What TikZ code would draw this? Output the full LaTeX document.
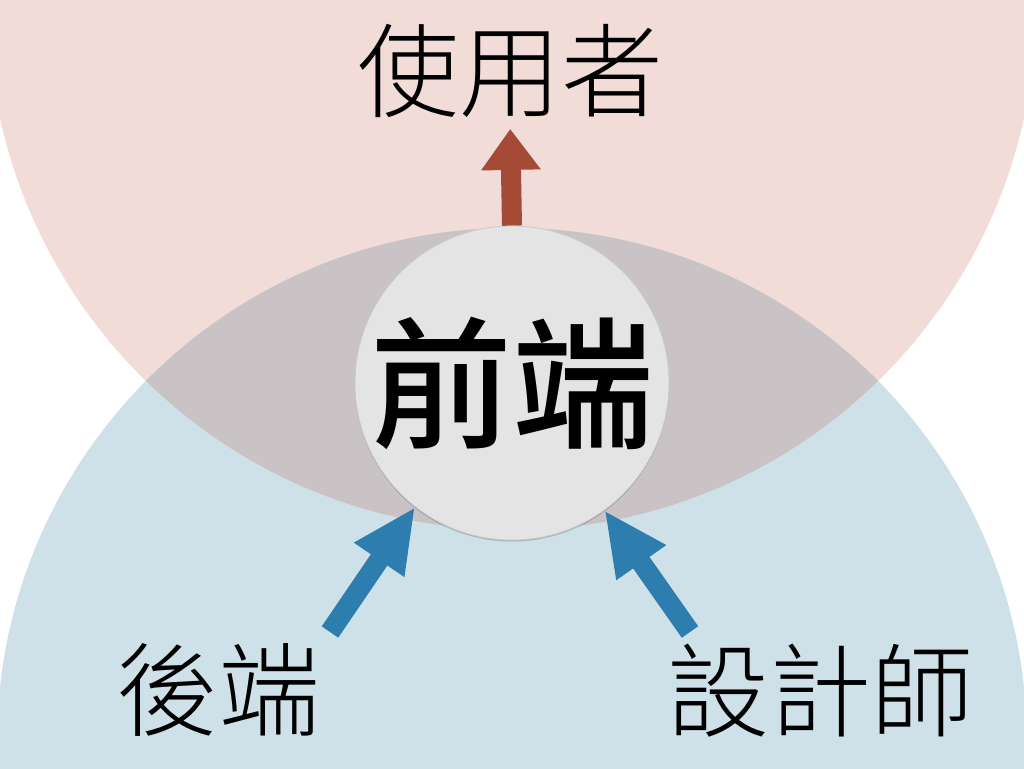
\documentclass[tikz,border=0pt]{standalone}
\usepackage{fontspec}
\newfontfamily\cjk{Noto Sans CJK TC}[BoldFont={Noto Sans CJK TC Bold}]
\IfFontExistsTF{Noto Sans CJK TC Light}
  {\newfontfamily\cjklight{Noto Sans CJK TC Light}}
  {\newfontfamily\cjklight{Noto Sans CJK TC}}
\IfFontExistsTF{Noto Sans CJK TC Medium}
  {\newfontfamily\cjkheavy{Noto Sans CJK TC Medium}}
  {\newfontfamily\cjkheavy{Noto Sans CJK TC Bold}}
\usetikzlibrary{arrows.meta,shadows}

\definecolor{userpink}{HTML}{F1DCD8}
\definecolor{devblue}{HTML}{CFE1E8}
\definecolor{overlapgrey}{HTML}{C9C3C6}
\definecolor{corefill}{HTML}{E4E4E4}
\definecolor{coreline}{HTML}{CACACA}
\definecolor{outred}{HTML}{A64A38}
\definecolor{inblue}{HTML}{2E7DAF}

\tikzset{
  label text/.style={font=\cjklight\fontsize{102}{102}\selectfont, inner sep=0pt, text=black},
  core/.style={circle, minimum size=314pt, inner sep=0pt, fill=corefill,
    draw=coreline, line width=0.7pt,
    drop shadow={shadow xshift=0pt, shadow yshift=-1.5pt, opacity=0.10, fill=black}},
  core text/.style={font=\cjkheavy\fontsize{142}{142}\selectfont, inner sep=0pt},
  outflow/.style={draw=outred, line width=20pt,
    -{Triangle[length=41pt,width=57pt]}, outred},
  inflow/.style={draw=inblue, line width=20pt,
    -{Triangle[length=64pt,width=56pt]}, inblue}
}

\begin{document}
\begin{tikzpicture}[x=1pt,y=-1pt]
  \useasboundingbox (0,0) rectangle (1024,768);

  % the two audiences as large discs, and their shared area
  \fill[userpink] (512,6) circle[radius=524];
  \fill[devblue] (512,743) circle[radius=515];
  \begin{scope}
    \clip (512,6) circle[radius=524];
    \fill[overlapgrey] (512,743) circle[radius=515];
  \end{scope}

  % labels
  \node[label text] (user) at (510,71) {使用者};
  \node[label text] (back) at (218,690) {後端};
  \node[label text] (design) at (820,691) {設計師};

  % arrow tails
  \coordinate (backTail) at (330,632);
  \coordinate (designTail) at (690,632);

  % the front end in the middle
  \node[core] (fe) at (512,383) {};

  % flows
  \draw[outflow, shorten >=11pt] (fe.north) -- (user.south);
  \draw[inflow] (backTail) -- (fe.232);
  \draw[inflow] (designTail) -- (fe.306);

  % redraw the disc over the arrow ends
  \node[core] at (512,383) {};
  \node[core text] (feText) at (fe.center) {前端};
\end{tikzpicture}
\end{document}
